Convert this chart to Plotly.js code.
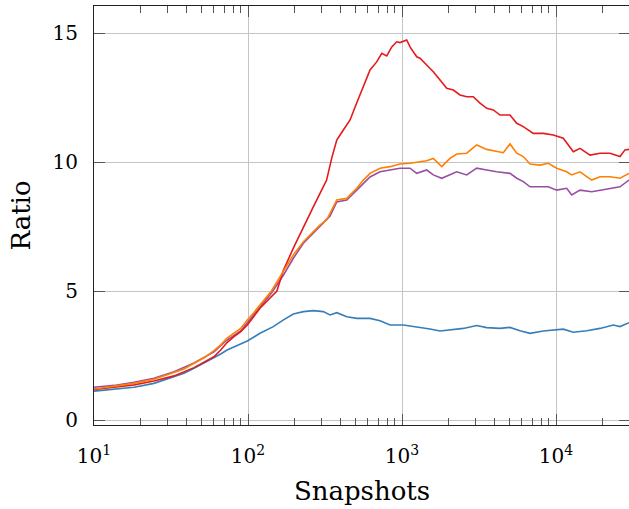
<!DOCTYPE html>
<html>
<head>
<meta charset="utf-8">
<script src="https://cdn.plot.ly/plotly-3.0.1.min.js"></script>
<style>html,body{margin:0;padding:0;overflow:hidden;background:#fff}</style>
</head>
<body>
<div id="chart" style="width:630px;height:509px"></div>
<script>
// ---- data ----
const blueX = [10,13.5,18.2,24.5,28.5,33.1,38.4,44.6,51.8,60.1,66.5,73.1,81.1,89.7,99,119.7,146,170,197,229,266,308,341,377,438,508,620,720,836,1020,1184,1375,1520,1766,2050,2501,3056,3548,4328,5026,5838,6781,8271,10105,11153,12955,15826,19307,23553,26037,29785];
const blueY = [1.12,1.19,1.27,1.42,1.55,1.66,1.81,2.00,2.20,2.41,2.56,2.71,2.84,2.95,3.06,3.36,3.62,3.88,4.11,4.20,4.24,4.20,4.07,4.16,4.00,3.94,3.94,3.85,3.68,3.68,3.62,3.58,3.53,3.45,3.49,3.55,3.66,3.58,3.55,3.59,3.46,3.36,3.45,3.49,3.52,3.40,3.46,3.55,3.68,3.62,3.77];

const purpleX = [10,13.5,18.2,24.5,33.1,44.6,60.1,73.1,89.7,99,109,142,170,197,229,266,294,341,377,438,508,561,620,720,836,970,1127,1246,1447,1597,1811,2050,2266,2631,3056,3548,4120,5026,5557,6135,6781,7872,8913,10105,11735,12648,14317,17056,19307,22420,26037,29785];
const purpleY = [1.27,1.34,1.46,1.62,1.87,2.21,2.64,3.10,3.45,3.76,4.07,4.92,5.62,6.27,6.85,7.25,7.48,7.91,8.45,8.53,8.91,9.15,9.42,9.62,9.69,9.76,9.76,9.56,9.69,9.50,9.37,9.50,9.62,9.50,9.76,9.69,9.62,9.56,9.37,9.24,9.04,9.04,9.04,8.91,8.98,8.72,8.91,8.85,8.91,8.98,9.04,9.30];

const redX = [10,13.5,18.2,24.5,33.1,44.6,60.1,66.5,73.1,81.1,89.7,99,109,120,154,170,197,229,266,294,324,350,377,416,460,508,561,620,685,739,796,858,924,970,1073,1127,1246,1309,1447,1597,1766,1952,2154,2380,2631,2904,3210,3548,3916,4328,5026,5557,6135,7122,8271,9605,11153,12955,14317,16630,19307,22420,26037,28060,29785];
const redY = [1.18,1.28,1.36,1.51,1.71,2.03,2.45,2.71,3.00,3.23,3.42,3.68,4.03,4.34,5.00,5.81,6.66,7.49,8.27,8.79,9.30,10.16,10.85,11.24,11.63,12.29,12.91,13.57,13.88,14.21,14.11,14.46,14.66,14.63,14.73,14.46,14.08,14.02,13.76,13.50,13.18,12.86,12.79,12.60,12.53,12.53,12.28,12.08,12.02,11.82,11.82,11.50,11.37,11.11,11.11,11.05,10.92,10.40,10.53,10.27,10.34,10.34,10.21,10.47,10.49];

const orangeX = [10,13.5,18.2,24.5,28.5,33.1,38.4,44.6,51.8,60.1,66.5,73.1,81.1,89.7,99,109,142,170,197,229,266,294,324,341,377,438,508,561,620,720,836,970,1127,1309,1447,1597,1811,2050,2266,2631,3056,3548,4120,4548,5026,5557,6135,6781,7872,8913,10105,11735,12648,14317,17056,19307,22420,26037,29785];
const orangeY = [1.20,1.32,1.42,1.58,1.71,1.83,1.98,2.20,2.41,2.69,2.91,3.17,3.36,3.55,3.88,4.16,5.00,5.75,6.40,6.91,7.30,7.56,7.75,8.01,8.53,8.59,8.98,9.30,9.56,9.76,9.82,9.92,9.95,10.01,10.05,10.14,9.82,10.14,10.31,10.34,10.66,10.49,10.40,10.36,10.70,10.34,10.21,9.92,9.88,9.95,9.76,9.62,9.50,9.62,9.30,9.43,9.43,9.37,9.56];

const xTickVals = [10, 100, 1000, 10000];
const xTickText = ['10<sup>1</sup>', '10<sup>2</sup>', '10<sup>3</sup>', '10<sup>4</sup>'];
const yTickVals = [0, 5, 10, 15];
const yTickText = ['0', '5', '10', '15'];
const xTitle = 'Snapshots';
const yTitle = 'Ratio';

// minor tick positions 2..9 in each decade
const minorVals = [];
for (let d = 1; d <= 4; d++) for (let k = 2; k <= 9; k++) minorVals.push(k * Math.pow(10, d));

const colors = {blue: '#377eb8', purple: '#984ea3', red: '#e41a1c', orange: '#ff7f00'};
const mk = (x, y, c) => ({x: x, y: y, type: 'scatter', mode: 'lines', line: {color: c, width: 1.6}, hoverinfo: 'skip'});

const data = [
  mk(blueX, blueY, colors.blue),
  mk(purpleX, purpleY, colors.purple),
  mk(redX, redY, colors.red),
  mk(orangeX, orangeY, colors.orange)
];

const FONT = 'DejaVu Serif';
const layout = {
  width: 630, height: 509,
  margin: {l: 94, r: 0, t: 6, b: 84, pad: 0},
  paper_bgcolor: '#fff', plot_bgcolor: '#fff',
  showlegend: false,
  font: {family: FONT, size: 20, color: '#000'},
  xaxis: {
    type: 'log', range: [1, 1 + 536 / 154],
    tickmode: 'array', tickvals: xTickVals, ticktext: xTickText,
    ticks: 'inside', ticklen: 11, tickwidth: 1, tickcolor: '#555',
    showline: true, linecolor: '#222', linewidth: 1, mirror: 'allticks',
    showgrid: true, gridcolor: '#c4c4c4', gridwidth: 1, zeroline: false,
    minor: {tickmode: 'array', tickvals: minorVals, ticks: 'inside', ticklen: 7, tickwidth: 1, tickcolor: '#555', showgrid: false},
    tickfont: {family: FONT, size: 20, color: '#000'},
    ticklabelstandoff: 13,
    title: {text: xTitle, font: {family: FONT, size: 26, color: '#000'}, standoff: 14}
  },
  yaxis: {
    range: [-0.194, 16.047],
    tickmode: 'array', tickvals: yTickVals, ticktext: yTickText,
    ticks: 'inside', ticklen: 11, tickwidth: 1, tickcolor: '#555',
    showline: true, linecolor: '#222', linewidth: 1, mirror: 'allticks',
    showgrid: true, gridcolor: '#c4c4c4', gridwidth: 1, zeroline: false,
    tickfont: {family: FONT, size: 20, color: '#000'},
    ticklabelstandoff: 11,
    title: {text: yTitle, font: {family: FONT, size: 26, color: '#000'}, standoff: 14}
  }
};

Plotly.newPlot('chart', data, layout, {staticPlot: true, displayModeBar: false});
</script>
</body>
</html>
